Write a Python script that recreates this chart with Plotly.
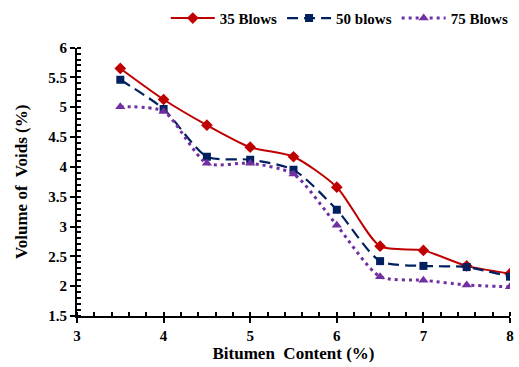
import plotly.graph_objects as go

# Bitumen content (%) and volume of voids (%) for each compaction level
bitumen = [3.5, 4.0, 4.5, 5.0, 5.5, 6.0, 6.5, 7.0, 7.5, 8.0]
vv_35 = [5.65, 5.13, 4.70, 4.33, 4.17, 3.66, 2.67, 2.60, 2.34, 2.21]
vv_50 = [5.46, 4.97, 4.17, 4.12, 3.95, 3.28, 2.42, 2.34, 2.32, 2.16]
vv_75 = [5.01, 4.93, 4.06, 4.06, 3.88, 3.02, 2.16, 2.10, 2.02, 1.99]

x_ticks = [3, 4, 5, 6, 7, 8]
y_ticks = [1.5, 2, 2.5, 3, 3.5, 4, 4.5, 5, 5.5, 6]

font_family = "Liberation Serif"

series = [
    ("35 Blows", vv_35, "#C00000", "solid", "diamond", 9, 2),
    ("50 blows", vv_50, "#002060", "11px,6px", "square", 8, 2.2),
    ("75 Blows", vv_75, "#7030A0", "3px,4px", "triangle-up", 9, 3),
]

fig = go.Figure()
for name, values, color, dash, symbol, msize, lw in series:
    fig.add_trace(go.Scatter(
        x=bitumen, y=values, name=name, mode="lines+markers",
        line=dict(color=color, dash=dash, width=lw, shape="spline", smoothing=0.7),
        marker=dict(symbol=symbol, size=msize, color=color),
    ))

axis_common = dict(
    showline=True, linecolor="black", linewidth=2,
    showgrid=False, zeroline=False,
    ticks="outside", ticklen=5, tickwidth=2, tickcolor="black",
    tickfont=dict(family=font_family, size=15, color="black", weight="bold"),
)

fig.update_layout(
    width=519, height=367,
    margin=dict(l=77, r=5, t=35, b=51),
    paper_bgcolor="white", plot_bgcolor="white",
    font=dict(family=font_family, color="black"),
    showlegend=True,
    legend=dict(
        orientation="h", xref="container", yref="container",
        x=0.99, xanchor="right", y=0.995, yanchor="top",
        font=dict(family=font_family, size=15, color="black", weight="bold"),
        itemwidth=44, tracegroupgap=0, bgcolor="rgba(0,0,0,0)",
    ),
    xaxis=dict(
        range=[3, 8], tickvals=x_ticks,
        minor=dict(dtick=0.2, ticks="inside", ticklen=4, tickwidth=2, tickcolor="black"),
        title=dict(text="Bitumen\u00a0 Content (%)", standoff=2,
                   font=dict(family=font_family, size=17, color="black", weight="bold")),
        **axis_common,
    ),
    yaxis=dict(
        range=[1.5, 6], tickvals=y_ticks, ticktext=[f"{v:g}" for v in y_ticks],
        minor=dict(dtick=0.1, ticks="inside", ticklen=4, tickwidth=2, tickcolor="black"),
        title=dict(text="Volume of\u00a0 Voids (%)", standoff=16,
                   font=dict(family=font_family, size=17, color="black", weight="bold")),
        **axis_common,
    ),
)

fig.write_html("out.html")
